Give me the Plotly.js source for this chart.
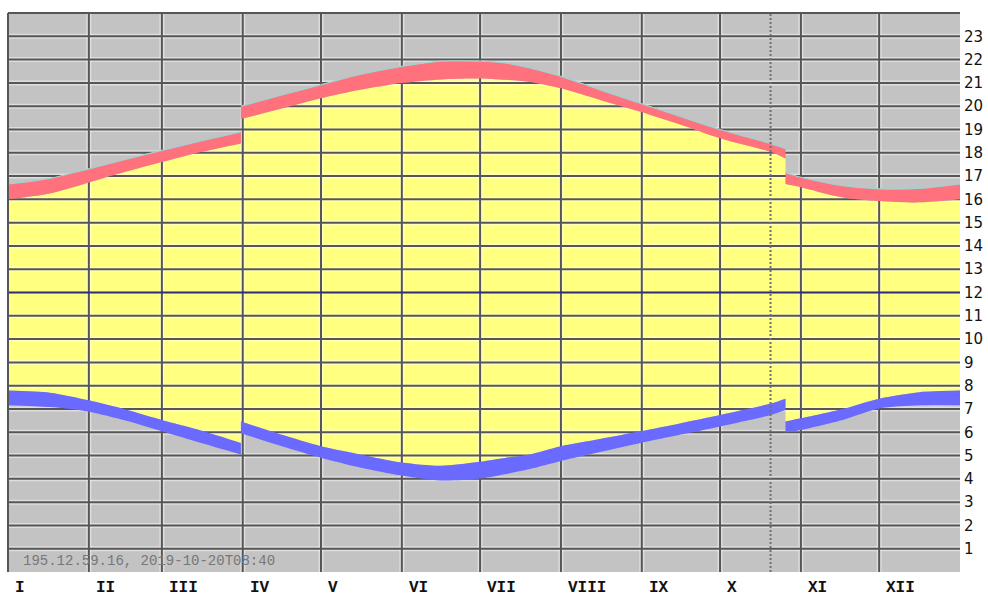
<!DOCTYPE html>
<html><head><meta charset="utf-8">
<script src="https://cdn.plot.ly/plotly-3.0.1.min.js"></script>
<style>html,body{margin:0;padding:0;background:#fff}#chart{width:988px;height:596px}</style>
</head><body><div id="chart"></div>
<script>
// Day of year (0 = 1 January) at which the curves were read; a repeated day marks a clock change (DST jump)
const days    = [0, 16, 31, 45, 59, 74, 89.3, 89.3, 105, 120, 135, 151, 166, 180, 191, 200, 212, 227, 242.5, 258, 273, 292.5, 298.1, 298.1, 304, 320, 334, 349.5, 365];
// End of evening twilight (upper edge of red band), hours
const dusk    = [16.66, 16.90, 17.31, 17.71, 18.10, 18.51, 18.90, 20.00, 20.48, 20.92, 21.36, 21.71, 21.93, 21.93, 21.85, 21.64, 21.28, 20.70, 20.12, 19.55, 19.00, 18.39, 18.18, 17.14, 16.95, 16.59, 16.45, 16.47, 16.66];
// Sunset (lower edge of red band), hours
const sunset  = [16.00, 16.25, 16.72, 17.18, 17.60, 18.03, 18.40, 19.45, 19.90, 20.34, 20.70, 20.99, 21.15, 21.19, 21.13, 21.04, 20.77, 20.27, 19.76, 19.20, 18.62, 18.03, 17.75, 16.66, 16.52, 16.08, 15.93, 15.87, 16.00];
// Sunrise (upper edge of blue band), hours
const sunrise = [7.79, 7.70, 7.37, 6.98, 6.53, 6.08, 5.54, 6.46, 5.89, 5.40, 5.05, 4.70, 4.56, 4.72, 4.91, 5.05, 5.40, 5.71, 6.04, 6.39, 6.74, 7.23, 7.44, 6.46, 6.60, 7.00, 7.44, 7.72, 7.79];
// Start of morning twilight (lower edge of blue band), hours
const dawn    = [7.16, 7.08, 6.88, 6.50, 6.04, 5.54, 5.05, 5.96, 5.40, 4.91, 4.49, 4.14, 3.93, 4.00, 4.21, 4.42, 4.77, 5.15, 5.54, 5.90, 6.25, 6.74, 6.95, 5.99, 6.10, 6.53, 7.02, 7.16, 7.16];

const monthLabels = ['I','II','III','IV','V','VI','VII','VIII','IX','X','XI','XII'];
const monthStarts = [0, 31, 59, 90, 120, 151, 181, 212, 243, 273, 304, 334];
const yearEnd = 365;
const hourTicks = [1,2,3,4,5,6,7,8,9,10,11,12,13,14,15,16,17,18,19,20,21,22,23];
const noonHour = 12;
const todayDay = 292.36;
const stampText = '195.12.59.16, 2019-10-20T08:40';

const YELLOW = '#ffff80', BLUE = '#6a6aff', RED = '#ff717d';

// split the year into continuous pieces where a day repeats (clock change)
const pieces = [];
const jumps = [];
let cur = [];
days.forEach((d, i) => {
  if (i > 0 && d === days[i - 1]) { pieces.push(cur); cur = []; jumps.push(i); }
  cur.push(i);
});
pieces.push(cur);
const pick = (arr, idx) => idx.map(i => arr[i]);

function fillPair(lower, upper, color, traces) {
  pieces.forEach(idx => {
    traces.push({x: pick(days, idx), y: pick(lower, idx), mode: 'lines',
      line: {width: 0, shape: 'spline', smoothing: 0.8}, hoverinfo: 'skip'});
    traces.push({x: pick(days, idx), y: pick(upper, idx), mode: 'lines', fill: 'tonexty', fillcolor: color,
      line: {width: 0, shape: 'spline', smoothing: 0.8}, hoverinfo: 'skip'});
  });
}

// grid path built from the tick arrays
const gx = [], gy = [];
hourTicks.forEach(h => { if (h !== noonHour) { gx.push(0, yearEnd, null); gy.push(h, h, null); } });
monthStarts.slice(1).forEach(d => { gx.push(d, d, null); gy.push(0, 24, null); });

// close the anti-aliasing seam of the day area at each clock change
const sx = [], sy = [];
jumps.forEach(j => {
  sx.push(days[j], days[j], null);
  sy.push(Math.max(sunrise[j - 1], sunrise[j]), Math.min(sunset[j - 1], sunset[j]), null);
});

const traces = [];
fillPair(sunrise, sunset, YELLOW, traces);
traces.push({x: sx, y: sy, mode: 'lines', line: {color: YELLOW, width: 2}, hoverinfo: 'skip'});
traces.push({x: gx, y: gy, mode: 'lines', line: {color: 'rgba(255,255,255,0.45)', width: 5}, hoverinfo: 'skip'});
traces.push({x: gx, y: gy, mode: 'lines', line: {color: '#565656', width: 2}, hoverinfo: 'skip'});
traces.push({x: [0, yearEnd], y: [noonHour, noonHour], mode: 'lines', line: {color: '#2c2c78', width: 2}, hoverinfo: 'skip'});
fillPair(dawn, sunrise, BLUE, traces);
fillPair(sunset, dusk, RED, traces);
pieces.forEach(idx => {
  traces.push({x: pick(days, idx), y: pick(dusk, idx), mode: 'lines',
    line: {color: '#9fd2d2', width: 1.2, shape: 'spline', smoothing: 0.8}, hoverinfo: 'skip'});
});

const annotations = monthLabels.map((t, i) => ({
  x: monthStarts[i], xref: 'x', y: 0, yref: 'paper',
  xanchor: 'left', yanchor: 'top', xshift: 5, yshift: -5,
  text: '<b>' + t + '</b>', showarrow: false,
  font: {family: 'Liberation Mono, DejaVu Sans Mono, monospace', size: 16, color: '#111'}
}));
annotations.push({
  x: 0, xref: 'paper', y: 0, yref: 'paper',
  xanchor: 'left', yanchor: 'middle', xshift: 13, yshift: 11,
  text: stampText, showarrow: false,
  font: {family: 'Liberation Mono, DejaVu Sans Mono, monospace', size: 14, color: '#777777'}
});

const layout = {
  width: 988, height: 596,
  margin: {l: 8, r: 28, t: 13, b: 24, pad: 0},
  paper_bgcolor: '#ffffff',
  plot_bgcolor: '#c3c3c3',
  showlegend: false,
  xaxis: {range: [0, yearEnd], showgrid: false, zeroline: false, showticklabels: false, ticks: '', showline: false, fixedrange: true},
  yaxis: {range: [0, 24], side: 'right', tickvals: hourTicks, ticktext: hourTicks.map(String),
          showgrid: false, zeroline: false, showline: false, ticks: '', ticklabelstandoff: 3,
          tickfont: {family: 'DejaVu Sans, Verdana, sans-serif', size: 15, color: '#111'}, fixedrange: true},
  shapes: [
    {type: 'line', xref: 'paper', yref: 'paper', x0: 0, x1: 1, y0: 1, y1: 1, line: {color: '#565656', width: 2}, layer: 'above'},
    {type: 'line', xref: 'paper', yref: 'paper', x0: 0, x1: 0, y0: 0, y1: 1, line: {color: '#565656', width: 2}, layer: 'above'},
    {type: 'line', xref: 'x', yref: 'paper', x0: todayDay, x1: todayDay, y0: 0, y1: 1, line: {color: '#707070', width: 2, dash: '2px,2px'}, layer: 'above'}
  ],
  annotations: annotations
};

Plotly.newPlot('chart', traces, layout, {staticPlot: true, displayModeBar: false});
</script>
</body></html>
